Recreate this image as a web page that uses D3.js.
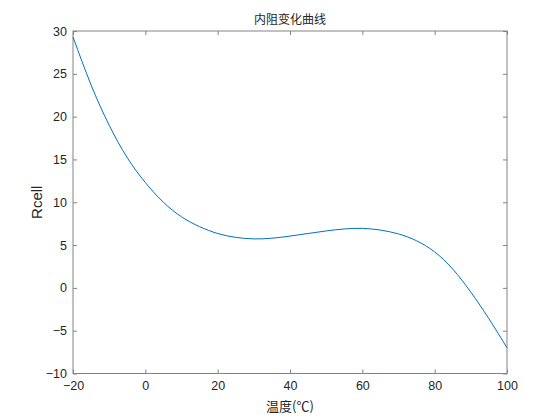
<!DOCTYPE html>
<html>
<head>
<meta charset="utf-8">
<script src="https://cdn.jsdelivr.net/npm/d3@7"></script>
<style>
  body { margin: 0; background: #fff; }
  svg text { fill: #262626; }
</style>
</head>
<body>
<div id="chart"></div>
<script>
var width = 560,
    height = 420;

// temperature (°C) and internal resistance
var temps = [-20, -15, -10, -5, 0, 5, 10, 15, 20, 25, 30, 35, 40, 45, 50,
             55, 60, 65, 70, 75, 80, 85, 90, 95, 100];
var rcell = [29.3, 23.7, 19.0, 15.2, 12.3, 10.0, 8.3, 7.15, 6.35, 5.9, 5.72, 5.8,
             6.05, 6.35, 6.65, 6.88, 6.95, 6.75, 6.3, 5.5, 4.2, 2.2, -0.5, -3.6, -7.0];
var xTicks = [-20, 0, 20, 40, 60, 80, 100];
var yTicks = [-10, -5, 0, 5, 10, 15, 20, 25, 30];

var margin = {top: 31, right: 53, bottom: 46.5, left: 73};
var innerW = width - margin.left - margin.right,
    innerH = height - margin.top - margin.bottom;

var svg = d3.select("#chart")
    .append("svg")
    .attr("width", width)
    .attr("height", height);

var x = d3.scaleLinear().domain([-20, 100]).range([0, innerW]);
var y = d3.scaleLinear().domain([-10, 30]).range([innerH, 0]);

var g = svg.append("g")
    .attr("transform", "translate(" + margin.left + "," + margin.top + ")");

var axisColor = "#838383",
    tickFont = "'Liberation Sans', Arial, sans-serif";

function styleAxis(sel, showLabels) {
    sel.select(".domain").remove();
    sel.selectAll(".tick line").attr("stroke", axisColor);
    sel.selectAll(".tick text")
        .style("font-family", tickFont)
        .style("font-size", "12.5px")
        .attr("fill", "#262626");
    if (!showLabels) sel.selectAll(".tick text").remove();
}

// bottom / left with labels, top / right ticks only (box on)
g.append("g")
    .attr("transform", "translate(0," + innerH + ")")
    .call(d3.axisBottom(x).tickValues(xTicks).tickSize(-4).tickPadding(8))
    .call(styleAxis, true);

g.append("g")
    .call(d3.axisTop(x).tickValues(xTicks).tickSize(-4))
    .call(styleAxis, false);

g.append("g")
    .call(d3.axisLeft(y).tickValues(yTicks).tickSize(-4).tickPadding(6))
    .call(styleAxis, true);

g.append("g")
    .attr("transform", "translate(" + innerW + ",0)")
    .call(d3.axisRight(y).tickValues(yTicks).tickSize(-4))
    .call(styleAxis, false);

g.append("rect")
    .attr("width", innerW)
    .attr("height", innerH)
    .attr("fill", "none")
    .attr("stroke", axisColor)
    .attr("stroke-width", 1);

var line = d3.line()
    .x(function(d, i) { return x(temps[i]); })
    .y(function(d) { return y(d); })
    .curve(d3.curveNatural);

g.append("path")
    .datum(rcell)
    .attr("d", line)
    .attr("fill", "none")
    .attr("stroke", "#0072BD")
    .attr("stroke-width", 1);

svg.append("text")
    .attr("x", margin.left + innerW / 2)
    .attr("y", 24)
    .attr("text-anchor", "middle")
    .style("font-family", "'Noto Sans CJK SC', sans-serif")
    .style("font-size", "12px")
    .text("内阻变化曲线");

svg.append("text")
    .attr("x", margin.left + innerW / 2)
    .attr("y", 411)
    .attr("text-anchor", "middle")
    .style("font-family", "'Noto Sans CJK SC', sans-serif")
    .style("font-size", "13px")
    .text("温度(℃)");

svg.append("text")
    .attr("transform", "translate(42," + (margin.top + innerH / 2) + ") rotate(-90)")
    .attr("text-anchor", "middle")
    .style("font-family", tickFont)
    .style("font-size", "15px")
    .text("Rcell");
</script>
</body>
</html>
